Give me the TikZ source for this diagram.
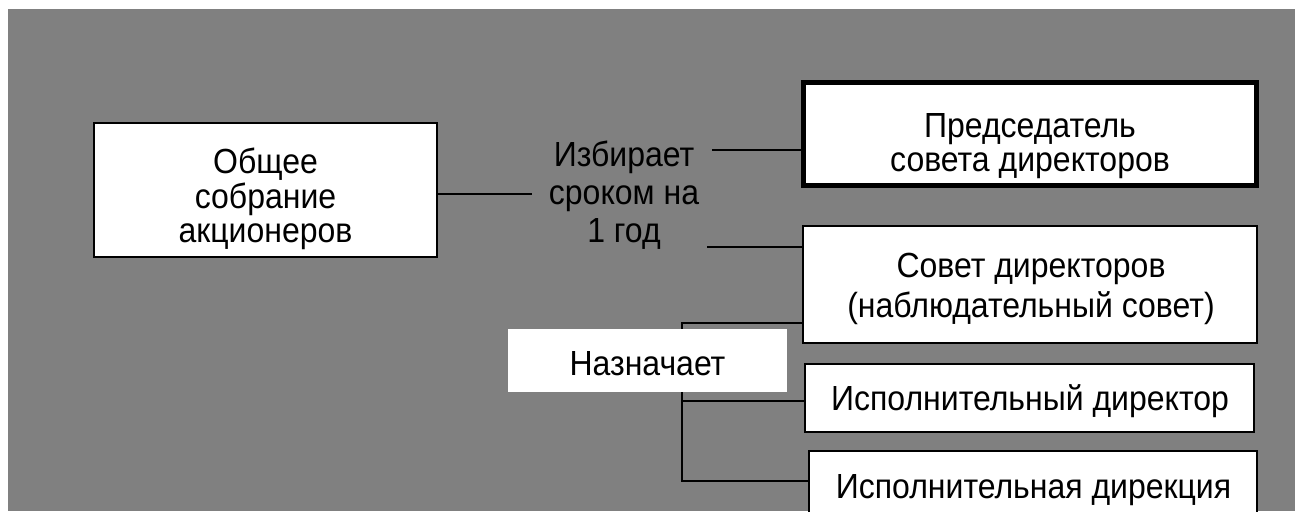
\documentclass[tikz,border=0pt]{standalone}
\usepackage{fontspec}
\setmainfont{Liberation Sans}
\definecolor{panel}{HTML}{808080}
% centred lines of text, slightly tall glyphs; baseline of the node = first line
\newcommand{\lines}[2]{\scalebox{1}[1.09]{\fontsize{32}{#1}\selectfont
  \begin{tabular}[t]{@{}c@{}}#2\end{tabular}}}
\begin{document}
\begin{tikzpicture}[x=1pt,y=-1pt,
  txt/.style={inner sep=0pt,anchor=base},
  box/.style={draw=black,fill=white,line width=2pt,inner sep=0pt},
  conn/.style={draw=black,line width=2pt}]
\useasboundingbox (0,0) rectangle (1297,511);
\clip (0,0) rectangle (1297,511);
\fill[panel] (8,9) rectangle (1295,511);

% boxes
\node[box,minimum width=343pt,minimum height=134pt] (meeting) at (265.5,190) {};
\node[box,minimum width=453.5pt,minimum height=103.5pt,line width=5pt] (chair) at (1030,134) {};
\node[box,minimum width=454pt,minimum height=117pt] (board) at (1030,284.5) {};
\node[box,minimum width=449pt,minimum height=68pt] (director) at (1029.5,398) {};
\node[box,minimum width=448pt,minimum height=79pt] (directorate) at (1033,490.5) {};

% free ends of the connectors
\coordinate (m1) at (532,194);
\coordinate (e1) at (712,150);
\coordinate (e2) at (707,247);
\coordinate (a1) at (682,323);
\coordinate (a2) at (682,401);
\coordinate (a3) at (682,481);

\draw[conn] (meeting.east |- m1) -- (m1);
\draw[conn] (e1) -- (e1 -| chair.west);
\draw[conn] (e2) -- (e2 -| board.west);
\draw[conn] (a1 -| board.west) -- (a1) -- (a3) -- (a3 -| directorate.west);
\draw[conn] (a2) -- (a2 -| director.west);

% appoints
\node[fill=white,inner sep=0pt,minimum width=279pt,minimum height=63pt] (appoints) at (647.5,360.5) {};

% texts
\node[txt] (meetingText) at (265.5,173) {\lines{30.7}{Общее\\собрание\\акционеров}};
\node[txt] (electsText) at (624,166) {\lines{35.3}{Избирает\\сроком на\\1 год}};
\node[txt] (chairText) at (1030,137) {\lines{32.1}{Председатель\\совета директоров}};
\node[txt] (boardText) at (1031,277) {\lines{37.6}{Совет директоров\\(наблюдательный совет)}};
\node[txt] (appointsText) at (647.5,375) {\lines{32}{Назначает}};
\node[txt] (directorText) at (1030,410) {\lines{32}{Исполнительный директор}};
\node[txt] (directorateText) at (1033.5,498) {\lines{32}{Исполнительная дирекция}};
\end{tikzpicture}
\end{document}
